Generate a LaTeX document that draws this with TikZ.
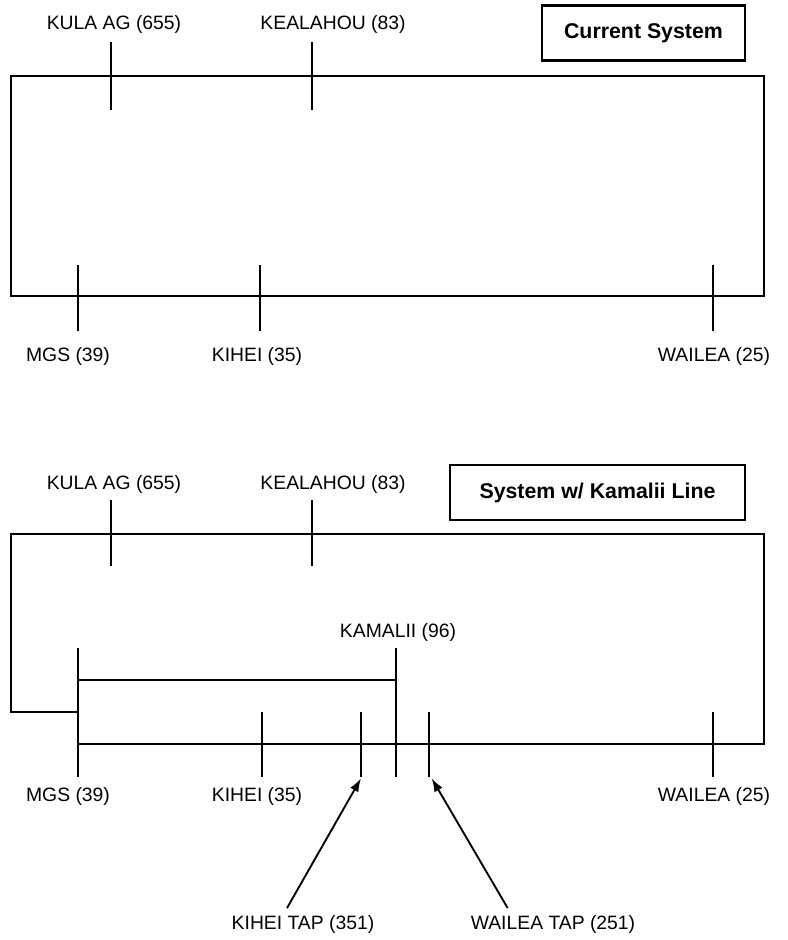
\documentclass[tikz,border=0pt]{standalone}
\usepackage{fontspec}
\setmainfont{Liberation Sans}
\usetikzlibrary{arrows.meta,positioning}
\tikzset{bus/.style={line width=1.3pt,line join=miter},
 tk/.style={line width=1.8pt},
 lbl/.style={font=\fontsize{14.5}{17}\selectfont,inner sep=0pt},
 ttl/.style={draw,line width=1.8pt,font=\fontsize{16}{19}\selectfont\bfseries,minimum height=41pt},
 ptr/.style={-{Latex[length=10pt,width=7pt]},line width=1.4pt}}
\begin{document}
\begin{tikzpicture}[x=0.75pt,y=-0.75pt]
\useasboundingbox (0,0) rectangle (788,940);
% current system
\coordinate(atl)at(11,76);\coordinate(atr)at(764,76);
\coordinate(abr)at(764,296);\coordinate(abl)at(11,296);
\draw[bus](atl)--(atr)--(abr)--(abl)--cycle;
\foreach \n/\x in {kula/111,kea/312}
 {\coordinate(a\n1)at(\x,42);\coordinate(a\n2)at(\x,110);\draw[tk](a\n1)--(a\n2);}
\foreach \n/\x in {mgs/78,kihei/260,wailea/713}
 {\coordinate(a\n1)at(\x,265);\coordinate(a\n2)at(\x,331);\draw[tk](a\n1)--(a\n2);}
\node[lbl](akulaL)at(114,24){KULA AG (655)};\node[lbl](akeaL)at(333,24){KEALAHOU (83)};
\node[lbl](amgsL)at(68,356){MGS (39)};\node[lbl](akiheiL)at(257,356){KIHEI (35)};
\node[lbl](awaileaL)at(714,356){WAILEA (25)};
\node[ttl,minimum width=152pt](acap)at(643.5,33){Current System};
% system with kamalii line
\coordinate(btl)at(11,534);\coordinate(btr)at(764,534);
\coordinate(bbr)at(764,744);\coordinate(bbl)at(11,712);
\coordinate(bmgsj)at(78,712);\coordinate(bmgsb)at(78,744);
\coordinate(bmgs1)at(78,648);\coordinate(bmgs2)at(78,777);
\coordinate(bkam1)at(396,648);\coordinate(bkam2)at(396,777);
\coordinate(bmgst)at(78,680);\coordinate(bkamt)at(396,680);
\draw[bus](bmgsj)--(bbl)--(btl)--(btr)--(bbr)--(bmgsb);
\draw[bus](bmgst)--(bkamt);
\draw[tk](bmgs1)--(bmgs2);\draw[tk](bkam1)--(bkam2);
\foreach \n/\x in {kula/111,kea/312}
 {\coordinate(b\n1)at(\x,500);\coordinate(b\n2)at(\x,566);\draw[tk](b\n1)--(b\n2);}
\foreach \n/\x in {kihei/262,ktap/361,wtap/429,wailea/713}
 {\coordinate(b\n1)at(\x,712);\coordinate(b\n2)at(\x,777);\draw[tk](b\n1)--(b\n2);}
\node[lbl](bkulaL)at(114,484){KULA AG (655)};\node[lbl](bkeaL)at(333,484){KEALAHOU (83)};
\node[lbl](bkamL)at(398,632){KAMALII (96)};
\node[lbl](bmgsL)at(68,796){MGS (39)};\node[lbl](bkiheiL)at(257,796){KIHEI (35)};
\node[lbl](bwaileaL)at(714,796){WAILEA (25)};
\node[lbl](bktapL)at(303,924){KIHEI TAP (351)};\node[lbl](bwtapL)at(553,924){WAILEA TAP (251)};
\node[ttl,minimum width=221pt](bcap)at(597.5,492.5){System w/ Kamalii Line};
\draw[ptr]([xshift=-12pt,yshift=5pt]bktapL.north)--([yshift=-1pt]bktap2);
\draw[ptr]([xshift=-34pt,yshift=5pt]bwtapL.north)--([xshift=2pt,yshift=-1pt]bwtap2);
\end{tikzpicture}
\end{document}
